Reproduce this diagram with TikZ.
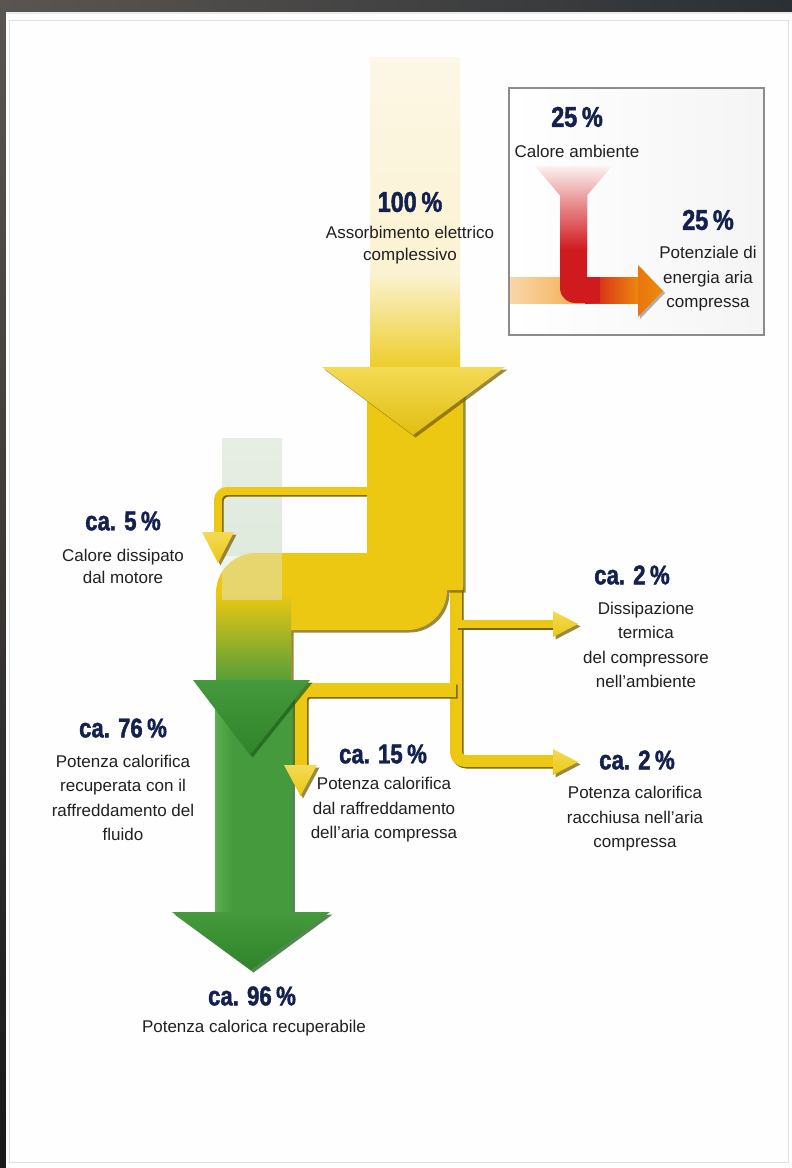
\documentclass[tikz,border=0pt]{standalone}
\usepackage{fontspec}
\setmainfont{Liberation Sans}
\newfontfamily\pctfont[FakeStretch=0.82,FakeBold=1.6]{Liberation Sans}
\usetikzlibrary{shadows}
\definecolor{ymain}{HTML}{ECC812}
\definecolor{ylight}{HTML}{F3DA55}
\definecolor{ydark}{HTML}{7A6200}
\definecolor{ypale}{HTML}{FCF7E6}
\definecolor{gmain}{HTML}{449A3C}
\definecolor{glight}{HTML}{5EAE50}
\definecolor{ghead}{HTML}{35922F}
\definecolor{gdark}{HTML}{1F5E1C}
\definecolor{gpale}{HTML}{DFE9DC}
\definecolor{navy}{HTML}{14204E}
\definecolor{txt}{HTML}{231F20}
\definecolor{rmain}{HTML}{CF1A1E}
\definecolor{omain}{HTML}{EF8C0A}
\definecolor{framedark}{HTML}{5A5551}
\definecolor{frameright}{HTML}{2B3034}
\newcommand\pipe[2]{%
  \draw[pipeshadow, line width=#1] #2;
  \draw[pipemain, line width=#1] #2;}
\begin{document}
\begin{tikzpicture}[x=1pt,y=-1pt,
  pipeshadow/.style={draw=ydark, shift={(1.5,1.5)}, rounded corners=9pt, line join=round},
  pipemain/.style={draw=ymain, rounded corners=9pt, line join=round},
  yshadow/.style={drop shadow={shadow xshift=2.5pt, shadow yshift=-2.5pt, fill=ydark, opacity=0.75}},
  gshadow/.style={drop shadow={shadow xshift=2.5pt, shadow yshift=-2.5pt, fill=gdark, opacity=0.75}},
  pct/.style={font=\pctfont\bfseries\fontsize{27}{29}\selectfont, text=navy, inner sep=0pt},
  bigpct/.style={font=\pctfont\bfseries\fontsize{28.5}{30}\selectfont, text=navy, inner sep=0pt},
  lbl/.style={font=\fontsize{17}{22}\selectfont, text=txt, align=center, inner sep=0pt},
  lblw/.style={font=\fontsize{17}{24.5}\selectfont, text=txt, align=center, inner sep=0pt}]
\useasboundingbox (0,0) rectangle (792,1168);
% frame
\fill[framedark] (0,0) rectangle (792,1168);
\shade[left color=framedark, right color=frameright] (0,0) rectangle (792,12);
\shade[top color=framedark, bottom color=black!90] (0,12) rectangle (6,1168);
\fill[white!99!gray] (6,12) rectangle (792,1168);
\draw[black!12, line width=1] (9,20) rectangle (788,1162);
\draw[black!8, line width=1.5] (6,13) -- (792,13);
% 100% shaft
\shade[top color=ypale, bottom color=ypale!90!ymain] (370,57) rectangle (460,275);
\shade[top color=ypale!90!ymain, bottom color=ymain] (370,274) rectangle (460,380);
% pale green band
\shade[top color=gpale!75, bottom color=gpale] (222,438) rectangle (282,555);
% thin branches (behind main body)
\pipe{8}{(372,491) -- (218,491) -- (218,534)}
\pipe{12}{(456,585) -- (456,761) -- (555,761)}
\pipe{14}{(456,690) -- (300,690) -- (300,768)}
\pipe{8}{(456,624) -- (555,624)}
% main yellow body
\fill[ymain, yshadow] (367,392) -- (463,392) -- (463,590) -- (447,590)
  .. controls (447,612) and (429,630) .. (407,630) -- (291,630) -- (291,700)
  -- (216,700) -- (216,593) .. controls (216,571) and (234,553) .. (256,553)
  -- (367,553) -- cycle;
\shade[top color=ymain, bottom color=gmain] (216,594) rectangle (291,690);
\fill[gpale, opacity=0.45] (222,553) rectangle (282,600);
% main arrowhead
\shade[top color=ylight, bottom color=ymain!95!black, yshadow] (322,367) -- (505,367) -- (413,435) -- cycle;
% green shaft and arrowheads
\fill[gmain, gshadow] (215,686) rectangle (292,914);
\shade[left color=glight, right color=gmain] (215,686) rectangle (232,914);
\shade[top color=gmain, bottom color=ghead!90!black, gshadow] (193,680) -- (310,680) -- (250,755) -- cycle;
\shade[top color=gmain, bottom color=ghead!90!black, gshadow] (172,912) -- (330,912) -- (251,970) -- cycle;
% thin arrowheads
\shade[top color=ylight, bottom color=ymain, yshadow] (202,532) -- (234,532) -- (218,563) -- cycle;
\shade[top color=ylight, bottom color=ymain, yshadow] (284,765) -- (317,765) -- (300.5,796) -- cycle;
\shade[top color=ylight, bottom color=ymain, yshadow] (553,611) -- (578,624) -- (553,637) -- cycle;
\shade[top color=ylight, bottom color=ymain, yshadow] (553,749) -- (578,762) -- (553,775) -- cycle;
% inset
\shadedraw[left color=white, right color=black!4, draw=black!45, line width=1.2] (509,88) rectangle (764,335);
\shade[left color=omain!35, right color=omain] (510,277) rectangle (640,303);
\shade[left color=rmain, right color=omain] (585,277) rectangle (640,303);
\fill[rmain] (560,195) -- (560,288) .. controls (560,296) and (567,303) .. (575,303)
  -- (600,303) -- (600,277) -- (587,277) -- (587,195) -- cycle;
\shade[top color=rmain!40, bottom color=rmain] (560,195) rectangle (587,250);
\shade[top color=rmain!6, bottom color=rmain!40] (535,166) -- (612,166) -- (587,195.5) -- (560,195.5) -- cycle;
\shade[left color=omain!80!rmain, right color=omain, drop shadow={shadow xshift=2pt, shadow yshift=-2pt, fill=black!60, opacity=0.5}] (638,265) -- (663,291) -- (638,317) -- cycle;
% texts
\node[bigpct] (t100) at (410,202) {100\,\%};
\node[lbl] (l100) at (410,245) {Assorbimento elettrico\\complessivo};
\node[bigpct] (t25a) at (577,117) {25\,\%};
\node[lbl] (l25a) at (577,151) {Calore ambiente};
\node[bigpct] (t25b) at (708,220) {25\,\%};
\node[lblw] (l25b) at (708,279) {Potenziale di\\energia aria\\compressa};
\node[pct] (t5) at (123,521) {ca. 5\,\%};
\node[lbl] (l5) at (123,566) {Calore dissipato\\dal motore};
\node[pct] (t2a) at (632,575) {ca. 2\,\%};
\node[lblw] (l2a) at (646,645) {Dissipazione\\termica\\del compressore\\nell’ambiente};
\node[pct] (t76) at (123,728) {ca. 76\,\%};
\node[lblw] (l76) at (123,798) {Potenza calorifica\\recuperata con il\\raffreddamento del\\fluido};
\node[pct] (t15) at (383,754) {ca. 15\,\%};
\node[lblw] (l15) at (384,810) {Potenza calorifica\\dal raffreddamento\\dell’aria compressa};
\node[pct] (t2b) at (637,760) {ca. 2\,\%};
\node[lblw] (l2b) at (635,819) {Potenza calorifica\\racchiusa nell’aria\\compressa};
\node[pct] (t96) at (252,996) {ca. 96\,\%};
\node[lbl] (l96) at (254,1028) {Potenza calorica recuperabile};
\end{tikzpicture}
\end{document}
